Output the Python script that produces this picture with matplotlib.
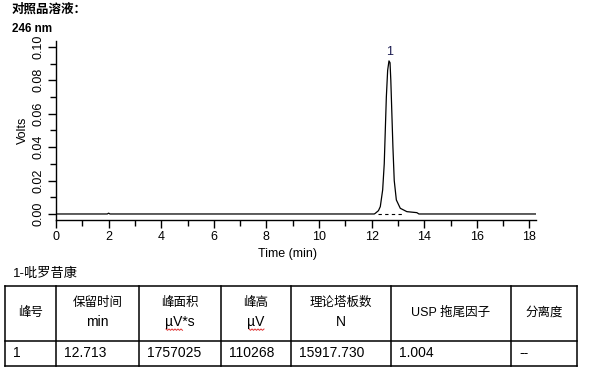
import numpy as np
import matplotlib
matplotlib.use("Agg")
import matplotlib.pyplot as plt

plt.rcParams['font.family'] = ['Liberation Sans', 'Noto Sans CJK SC', 'DejaVu Sans']

# chromatogram trace (time in min, signal in volts)
time = [0.0, 1.95, 2.0, 2.05, 12.10, 12.14, 12.26, 12.33, 12.42, 12.48, 12.52, 12.56,
        12.61, 12.66, 12.70, 12.73, 12.77, 12.81, 12.86, 12.94, 13.09, 13.34, 13.72,
        13.80, 18.25]
volts = [0.0, 0.0, 0.0005, 0.0, 0.0, 0.0004, 0.0020, 0.0044, 0.0144, 0.030, 0.050, 0.070,
         0.086, 0.0916, 0.0905, 0.080, 0.060, 0.040, 0.020, 0.0084, 0.0034, 0.0014, 0.0008,
         0.0, 0.0]
peak_rt = 12.69
peak_top = 0.0916
base_start, base_end = 12.26, 13.15

title = "对照品溶液："
wavelength = "246 nm"
compound = "1-吡罗昔康"

headers = ["峰号", "保留时间\nmin", "峰面积\nµV*s", "峰高\nµV", "理论塔板数\nN", "USP 拖尾因子", "分离度"]
row = ["1", "12.713", "1757025", "110268", "15917.730", "1.004", "--"]

W, H = 590, 375
fig = plt.figure(figsize=(W / 100, H / 100), dpi=100)

ax = fig.add_axes([56 / W, 1 - 220 / H, 480 / W, 179 / H])
ax.plot(time, volts, color='black', lw=0.9)
ax.plot([base_start, base_end], [0, 0], color='black', lw=0.8, ls=(0, (3, 3)))
ax.text(peak_rt, peak_top + 0.002, "1", ha='center', va='bottom', fontsize=9, color='#1a1a50')
ax.set_xlim(0, 18.25)
ax.set_ylim(-0.0036, 0.1035)
for s in ['top', 'right']:
    ax.spines[s].set_visible(False)
for s in ['left', 'bottom']:
    ax.spines[s].set_linewidth(1.0)
ax.set_xticks(np.arange(0, 19, 2))
ax.set_xticks(np.arange(0, 19, 1), minor=True)
ax.set_yticks(np.arange(0, 0.101, 0.02))
ax.set_yticks(np.arange(0, 0.101, 0.01), minor=True)
ax.set_yticklabels(["%.2f" % v for v in np.arange(0, 0.101, 0.02)], rotation=90, va='center')
ax.tick_params(which='major', length=6, width=1.0, labelsize=9, pad=2)
ax.tick_params(which='minor', length=4, width=1.0)
ax.set_xlabel("Time (min)", fontsize=9, labelpad=2)
ax.xaxis.set_label_coords(231 / 480, -0.155)
ax.set_ylabel("Volts", fontsize=9, labelpad=3)

fig.text(12 / W, 1 - 10 / H, title, fontsize=9, fontweight='bold', va='center')
fig.text(12 / W, 1 - 29 / H, wavelength, fontsize=8.5, fontweight='bold', va='center')

# table drawn on an overlay in pixel coordinates
tab = fig.add_axes([0, 0, 1, 1])
tab.set_xlim(0, W)
tab.set_ylim(H, 0)
tab.axis('off')
tab.text(13, 274, compound, fontsize=9.5, va='center')

cols = [5, 56, 139, 221, 291, 391, 511, 577]
rows = [286, 341, 366]
for x in cols:
    tab.plot([x, x], [rows[0], rows[-1]], color='black', lw=1.1)
for y in rows:
    tab.plot([cols[0], cols[-1]], [y, y], color='black', lw=1.1)

for i, h in enumerate(headers):
    cx = (cols[i] + cols[i + 1]) / 2
    parts = h.split("\n")
    if len(parts) == 2:
        tab.text(cx, 303, parts[0], ha='center', va='center', fontsize=9)
        tab.text(cx, 322, parts[1], ha='center', va='center', fontsize=10)
    else:
        tab.text(cx, 313, parts[0], ha='center', va='center', fontsize=9)

for i, v in enumerate(row):
    tab.text(cols[i] + 8, 353, v, ha='left', va='center', fontsize=10)

# red spell-check squiggles under the units
for x0, x1 in [(166, 183), (249, 264)]:
    xs = np.arange(x0, x1 + 0.1, 1.5)
    ys = 329 + np.where(np.arange(len(xs)) % 2 == 0, 0, 1.3)
    tab.plot(xs, ys, color='#e03030', lw=0.7)

fig.savefig("out.png", dpi=100)
